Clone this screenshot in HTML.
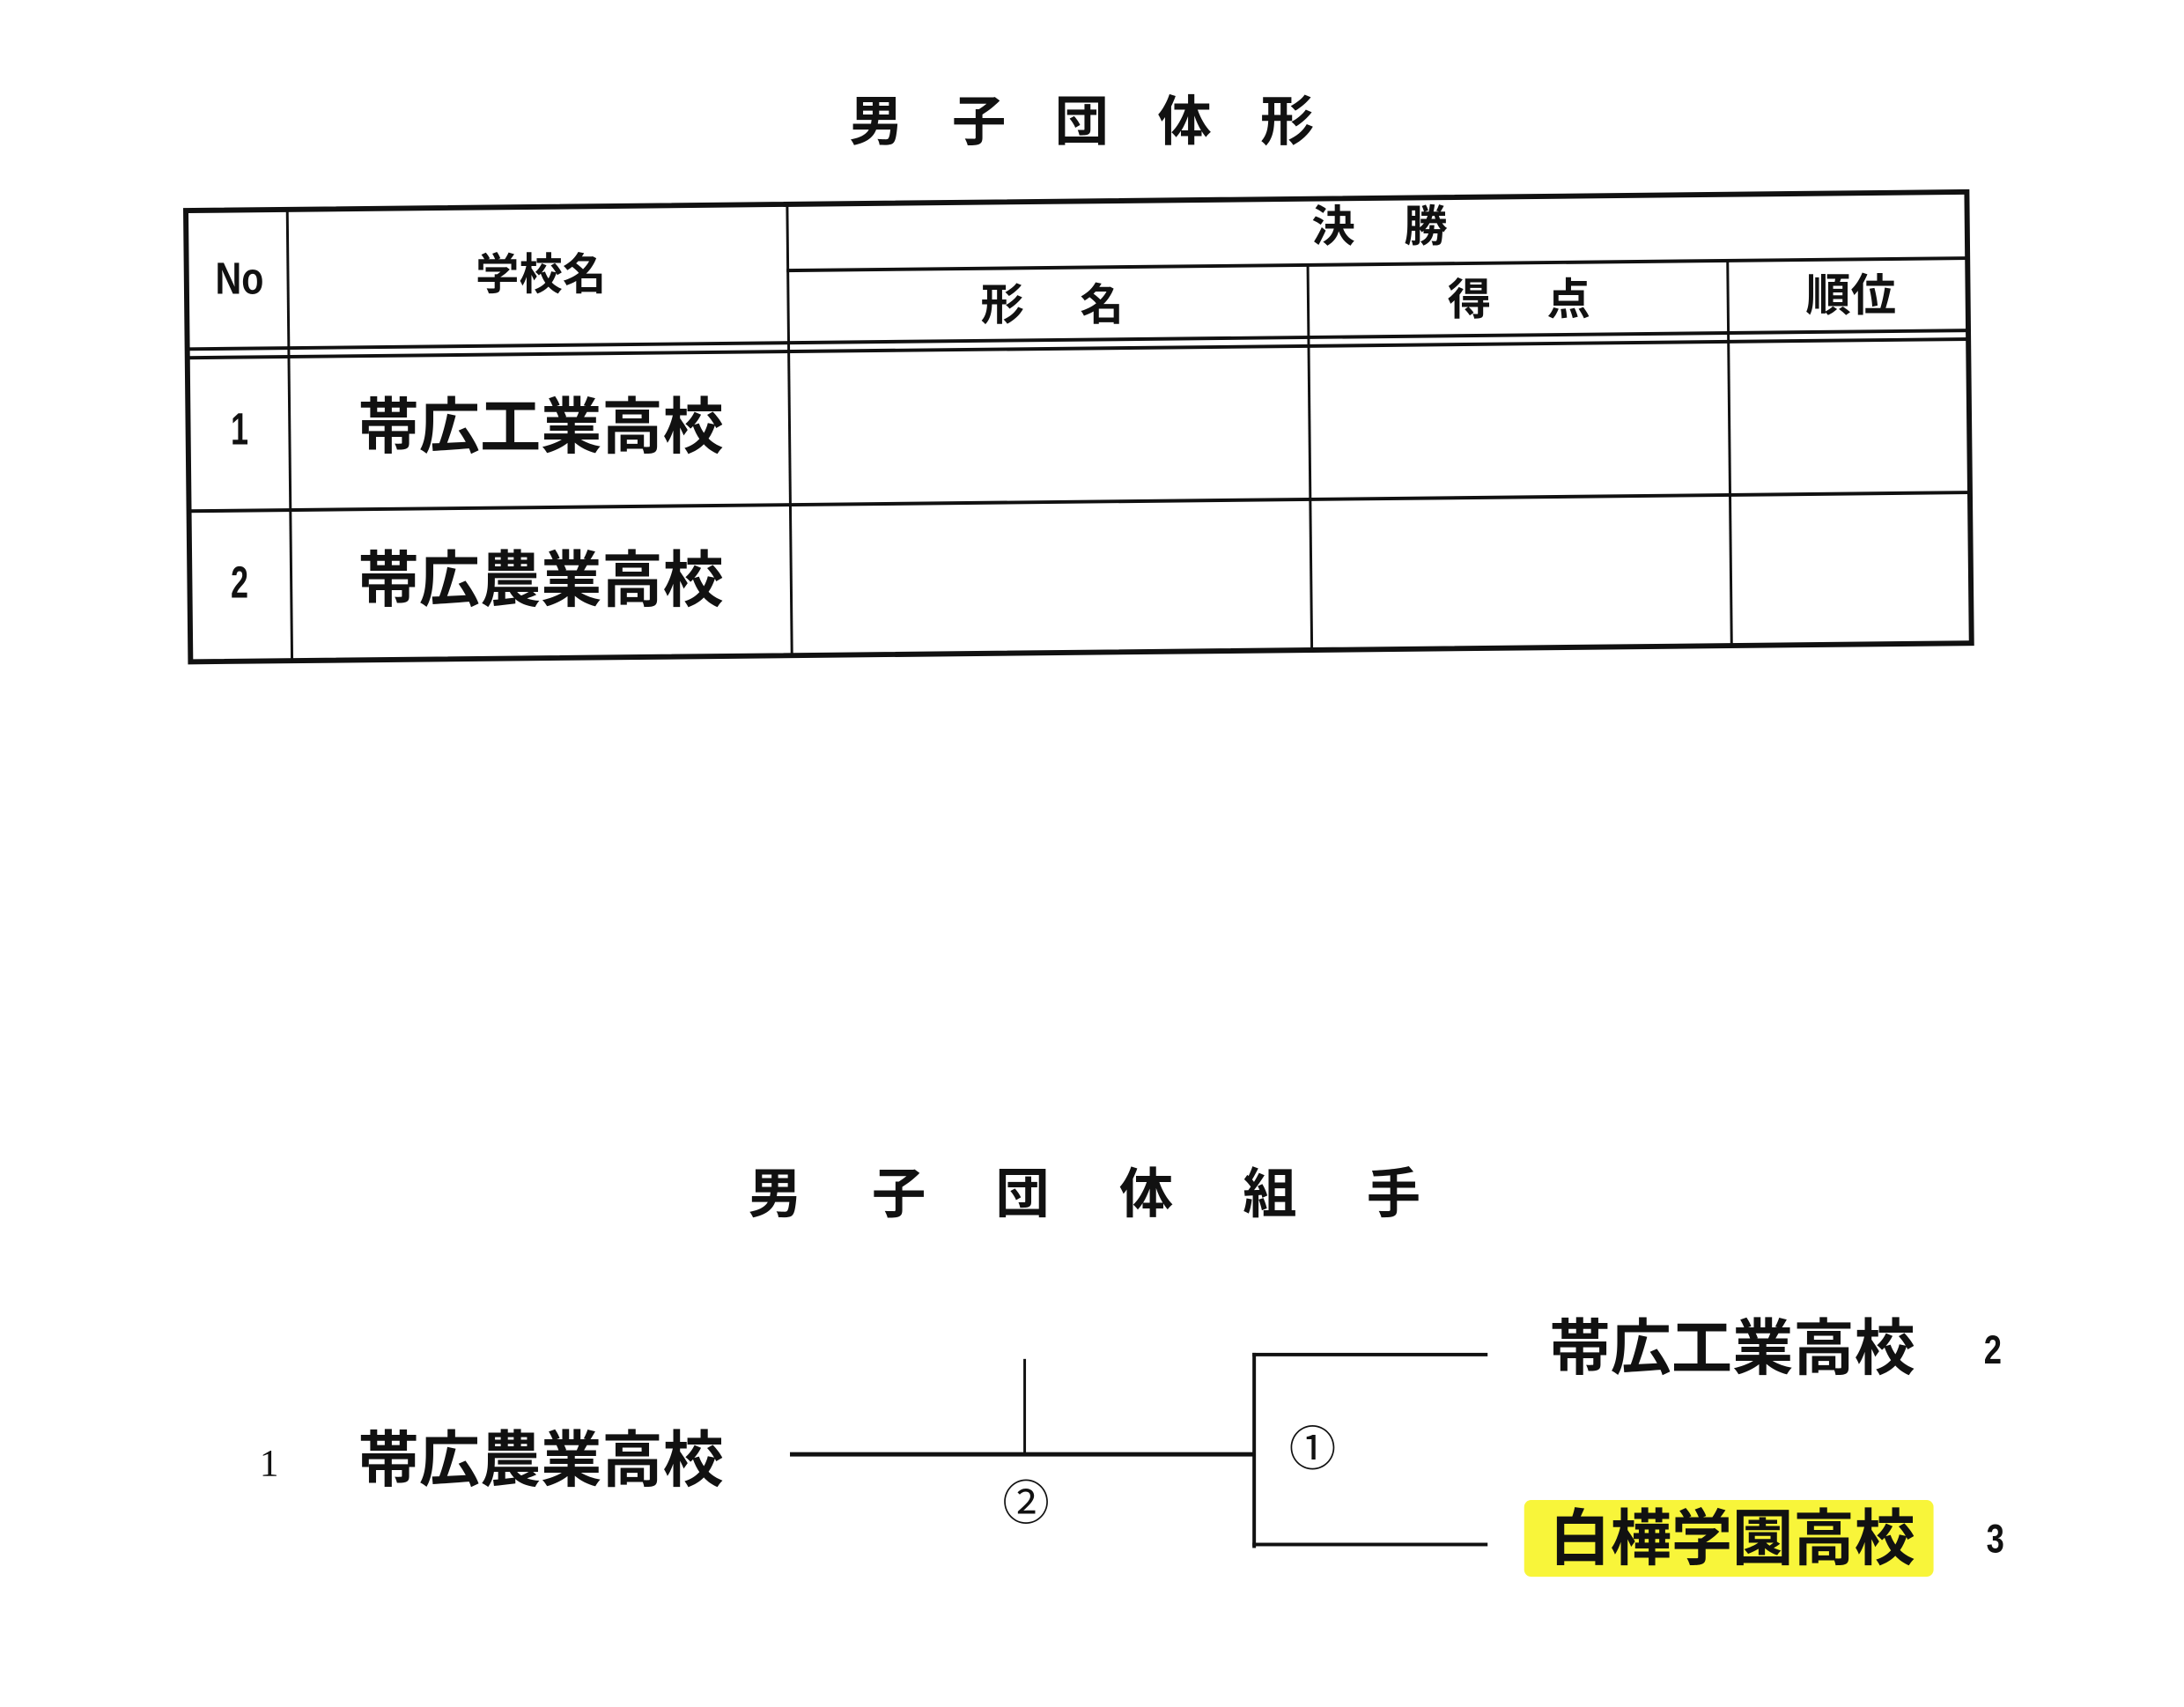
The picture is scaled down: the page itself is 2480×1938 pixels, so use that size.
<!DOCTYPE html>
<html><head><meta charset="utf-8"><style>
html,body{margin:0;padding:0;background:#fff;}
#o{position:relative;width:2480px;height:1938px;overflow:hidden;background:#fff;}
#p{position:absolute;left:0;top:0;width:2480px;height:1938px;transform:scale(0.989);transform-origin:0 0;font-family:"Liberation Sans","Noto Sans CJK JP",sans-serif;font-weight:bold;color:#111;}
.t{position:absolute;transform:translate(-50%,-50%);white-space:nowrap;line-height:1;}
.l{position:absolute;background:#111;}
</style></head><body><div id="o"><div id="p">
<div class="t" style="left:1242px;top:141px;font-size:62px;letter-spacing:56px;padding-left:56px;">男子団体形</div>

<div style="position:absolute;left:0;top:0;width:2480px;height:800px;transform:rotate(-0.6deg);transform-origin:1240px 490px;">
<div style="position:absolute;left:213px;top:228px;width:2051px;height:524px;border:6px solid #111;box-sizing:border-box;"></div>
<div class="l" style="left:331px;top:230px;width:3px;height:520px;"></div>
<div class="l" style="left:905px;top:230px;width:3px;height:520px;"></div>
<div class="l" style="left:1502px;top:307px;width:3px;height:443px;"></div>
<div class="l" style="left:1984px;top:307px;width:3px;height:443px;"></div>
<div class="l" style="left:905px;top:305px;width:1357px;height:4px;"></div>
<div class="l" style="left:215px;top:388px;width:2047px;height:4px;"></div>
<div class="l" style="left:215px;top:398px;width:2047px;height:4px;"></div>
<div class="l" style="left:215px;top:574px;width:2047px;height:4px;"></div>
</div>

<div class="t" style="left:275px;top:320px;font-size:52px;transform:translate(-50%,-50%) scaleX(0.8);">No</div>
<div class="t" style="left:621px;top:315px;font-size:50px;">学校名</div>
<div class="t" style="left:1584px;top:260px;font-size:50px;letter-spacing:56px;padding-left:56px;">決勝</div>
<div class="t" style="left:1208px;top:350px;font-size:50px;letter-spacing:64px;padding-left:64px;">形名</div>
<div class="t" style="left:1744px;top:344px;font-size:50px;letter-spacing:64px;padding-left:64px;">得点</div>
<div class="t" style="left:2125px;top:340px;font-size:52px;">順位</div>
<div class="t" style="left:275px;top:493px;font-size:52px;transform:translate(-50%,-50%) scaleX(0.7);">1</div>
<div class="t" style="left:621px;top:490px;font-size:70px;">帯広工業高校</div>
<div class="t" style="left:275px;top:669px;font-size:52px;transform:translate(-50%,-50%) scaleX(0.7);">2</div>
<div class="t" style="left:621px;top:666px;font-size:70px;">帯広農業高校</div>

<div class="t" style="left:1245px;top:1372px;font-size:62px;letter-spacing:80px;padding-left:80px;">男子団体組手</div>

<div class="l" style="left:907px;top:1667px;width:532px;height:5px;"></div>
<div class="l" style="left:1175px;top:1560px;width:3px;height:108px;"></div>
<div class="l" style="left:1438px;top:1553px;width:4px;height:224px;"></div>
<div class="l" style="left:1438px;top:1553px;width:270px;height:4px;"></div>
<div class="l" style="left:1438px;top:1771px;width:270px;height:4px;"></div>
<div class="t" style="left:1507px;top:1664px;font-size:54px;font-weight:normal;">①</div>
<div class="t" style="left:1178px;top:1726px;font-size:54px;font-weight:normal;">②</div>

<div class="t" style="left:309px;top:1680px;font-size:44px;font-weight:normal;font-family:'Liberation Serif',serif;">1</div>
<div class="t" style="left:621px;top:1676px;font-size:70px;">帯広農業高校</div>

<div class="t" style="left:1989px;top:1548px;font-size:70px;">帯広工業高校</div>
<div class="t" style="left:2288px;top:1549px;font-size:46px;transform:translate(-50%,-50%) scaleX(0.8);">2</div>

<div style="position:absolute;left:1750px;top:1722px;width:470px;height:88px;background:#f8f53a;border-radius:8px;"></div>
<div class="t" style="left:1989px;top:1766px;font-size:70px;">白樺学園高校</div>
<div class="t" style="left:2291px;top:1766px;font-size:46px;transform:translate(-50%,-50%) scaleX(0.8);">3</div>
</div></div></body></html>
